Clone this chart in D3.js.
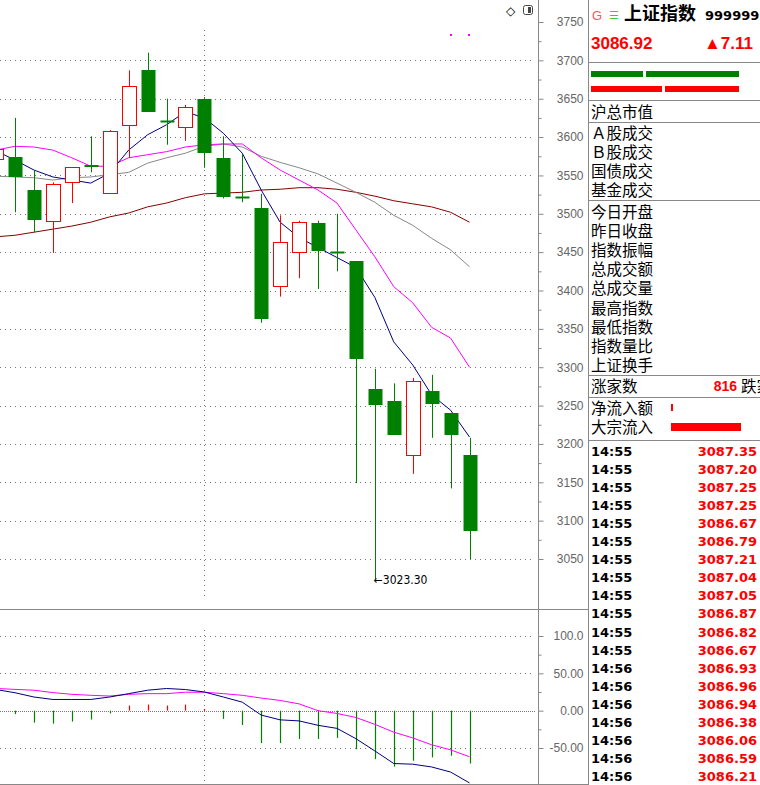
<!DOCTYPE html>
<html><head><meta charset="utf-8">
<script src="https://cdn.jsdelivr.net/npm/d3@7/dist/d3.min.js"></script>
<style>body{margin:0;background:#fff}svg{display:block}</style>
</head><body>
<script>
// candles index -1..24 : [open, close, high, low]
const opens  = [3572,3574,3531,3491,3541,3563,3527,3616,3687,3621,3613,3650,3573,3522,3507,3406,3450,3488,3450,3438,3272,3256,3186,3269,3240,3186];
const closes = [3585,3548,3492,3539,3561,3561,3608,3667,3633,3620,3639,3579,3522,3521,3363,3463,3489,3451,3449,3311,3251,3212,3282,3252,3212,3086.92];
const highs  = [3590,3625,3557,3541,3561,3601,3609,3687,3710,3650,3642,3652,3601,3578,3526,3498,3491,3491,3500,3438,3298,3279,3286,3290,3240,3208];
const lows   = [3565,3502,3476,3449,3514,3554,3526,3573,3633,3590,3595,3560,3520,3515,3358,3392,3416,3402,3425,3149,3023.3,3212,3161,3208,3142,3050];
const ma5  = [3582,3570,3557,3548,3544,3540,3553,3583,3603,3616,3633,3625,3605,3579,3531,3489,3469,3456,3443,3430,3391,3333,3303,3264,3244,3209];
const ma10 = [3583,3588,3587,3583,3573,3562,3562,3573,3577,3581,3587,3590,3591,3591,3573,3557,3544,3531,3514,3479,3444,3405,3384,3352,3338,3300];
const ma20 = [3549,3548,3547,3544,3547,3548,3551,3554,3566,3573,3579,3588,3591,3587,3575,3567,3560,3552,3540,3528,3515,3498,3485,3468,3453,3431];
const ma60 = [3470,3472,3476,3480,3484,3489,3496,3501,3509,3514,3521,3526,3527,3528,3531,3532,3534,3534,3532,3528,3523,3517,3513,3509,3502,3489];
const macd = [null,-4.6,-16,-17.4,-14.6,-11.9,-3.7,6.9,8.2,6.9,8.2,2.3,-11,-19.2,-43.4,-43.4,-37.9,-37.9,-36.5,-51.6,-64.9,-74.9,-67.1,-62.6,-60.3,-70.8];
const dif  = [28.3,24,18.3,15,15,15,18.3,22.8,27.4,29.7,28.3,25,18.3,11.4,-5.9,-12.3,-13.7,-19.6,-23.7,-37.5,-53.9,-70.8,-71.7,-75.4,-82.2,-96.8];
const dea  = [29.7,28.5,27.4,24.2,21.9,20.6,19.6,21.9,22.8,22.8,24.7,24.7,22.8,20.6,16.9,13.7,9.1,0,-3.7,-9.1,-18.3,-28.8,-36.5,-45.7,-52.5,-61.7];
const priceTicks = [3750,3700,3650,3600,3550,3500,3450,3400,3350,3300,3250,3200,3150,3100,3050];
const oscTicks = [[100,"100.0"],[50,"50.00"],[0,"0.00"],[-50,"-50.00"]];
const infoRows1 = ["沪总市值"];
const infoRows2 = ["Ａ股成交","Ｂ股成交","国债成交","基金成交"];
const infoRows3 = ["今日开盘","昨日收盘","指数振幅","总成交额","总成交量","最高指数","最低指数","指数量比","上证换手"];
const tickTimes = ["14:55","14:55","14:55","14:55","14:55","14:55","14:55","14:55","14:55","14:55","14:55","14:55","14:56","14:56","14:56","14:56","14:56","14:56","14:56"];
const tickPrices = ["3087.35","3087.20","3087.25","3087.25","3086.67","3086.79","3087.21","3087.04","3087.05","3086.87","3086.82","3086.67","3086.93","3086.96","3086.94","3086.38","3086.06","3086.59","3086.21"];

const W=760,H=785, AX=538, PR=588;
const svg=d3.select("body").append("svg").attr("width",W).attr("height",H).style("font-family","'Liberation Sans',Arial,sans-serif");
const idx=d3.range(-1,25);
const x=d3.scaleLinear().domain([0,24]).range([15,469.5]);
const y=d3.scaleLinear().domain([3050,3750]).range([559,22]);
const yo=d3.scaleLinear().domain([-50,100]).range([748,636]);
const RED="#ff0000",GRN="#008000";
svg.append("defs").append("clipPath").attr("id","c").append("rect").attr("x",0).attr("y",0).attr("width",AX).attr("height",H);
const g=svg.append("g").attr("clip-path","url(#c)");

// grids
priceTicks.forEach(p=>{ if(p!==3750) g.append("line").attr("x1",0).attr("x2",AX-3).attr("y1",Math.round(y(p))+.5).attr("y2",Math.round(y(p))+.5).attr("stroke","#777").attr("stroke-dasharray","1,4");});
oscTicks.forEach(([v])=>g.append("line").attr("x1",0).attr("x2",AX-3).attr("y1",Math.round(yo(v))+.5).attr("y2",Math.round(yo(v))+.5).attr("stroke","#777").attr("stroke-dasharray",v===0?"1,1":"1,4"));
[[30,597],[630,782]].forEach(([a,b])=>g.append("line").attr("x1",204.5).attr("x2",204.5).attr("y1",a).attr("y2",b).attr("stroke","#777").attr("stroke-dasharray","1,4"));

// MA lines
const line=arr=>d3.line().x((d,i)=>x(idx[i])).y(d=>y(d))(arr);
[[ma60,"#8b0000"],[ma20,"#888"],[ma10,"#ff00ff"],[ma5,"#000080"]].forEach(([a,c])=>g.append("path").attr("d",line(a)).attr("fill","none").attr("stroke",c).attr("stroke-width",1));

// candles
idx.forEach((k,i)=>{
  const o=opens[i],c=closes[i],up=c>o,col=up?RED:GRN,cx=Math.round(x(k))+.5;
  const t=Math.round(y(Math.max(o,c))),b=Math.round(y(Math.min(o,c)));
  g.append("line").attr("x1",cx).attr("x2",cx).attr("y1",y(highs[i])).attr("y2",y(lows[i])).attr("stroke",col);
  if(b-t<2) g.append("line").attr("x1",cx-7).attr("x2",cx+7).attr("y1",t+.5).attr("y2",t+.5).attr("stroke",col).attr("stroke-width",2);
  else g.append("rect").attr("x",cx-7).attr("y",t+(up?.5:0)).attr("width",14).attr("height",b-t).attr("fill",up?"#fff":GRN).attr("stroke",up?RED:"none");
});
const li=lows.indexOf(d3.min(lows));
g.append("text").attr("x",x(idx[li])-1).attr("y",y(lows[li])+5).attr("font-size",12).attr("fill","#000").attr("font-family","DejaVu Sans Condensed, DejaVu Sans").text("←3023.30");

// oscillator
idx.forEach((k,i)=>{ const v=macd[i]; if(v==null) return; const cx=Math.round(x(k))+.5;
  g.append("line").attr("x1",cx).attr("x2",cx).attr("y1",yo(0)).attr("y2",yo(v)).attr("stroke",v>0?RED:GRN).attr("stroke-width",1.2);});
const lo=arr=>d3.line().x((d,i)=>x(idx[i])).y(d=>yo(d))(arr);
g.append("path").attr("d",lo(dea)).attr("fill","none").attr("stroke","#ff00ff");
g.append("path").attr("d",lo(dif)).attr("fill","none").attr("stroke","#000080");

// axes
svg.append("line").attr("x1",AX+.5).attr("x2",AX+.5).attr("y1",0).attr("y2",H).attr("stroke","#888");
svg.append("line").attr("x1",PR+.5).attr("x2",PR+.5).attr("y1",0).attr("y2",H).attr("stroke","#888");
svg.append("line").attr("x1",0).attr("x2",PR).attr("y1",609.5).attr("y2",609.5).attr("stroke","#888");
svg.append("line").attr("x1",0).attr("x2",PR).attr("y1",784.5).attr("y2",784.5).attr("stroke","#888");
svg.append("g").attr("transform",`translate(${AX+.5},0)`).call(d3.axisRight(y).tickValues(priceTicks).tickSize(5).tickFormat(d3.format("d")));
svg.append("g").attr("transform",`translate(${AX+.5},0)`).call(d3.axisRight(y).tickValues(priceTicks.map(p=>p-25).filter(p=>p>3030)).tickSize(3).tickFormat(""));
svg.append("g").attr("transform",`translate(${AX+.5},0)`).call(d3.axisRight(yo).tickValues(oscTicks.map(d=>d[0])).tickSize(5).tickFormat((d,i)=>oscTicks[i][1]));
svg.append("g").attr("transform",`translate(${AX+.5},0)`).call(d3.axisRight(yo).tickValues([75,25,-25]).tickSize(3).tickFormat(""));
svg.selectAll(".domain").remove();
svg.selectAll(".tick line").attr("stroke","#888");
svg.selectAll(".tick text").attr("fill","#666").attr("font-size",12).attr("text-anchor","end").attr("x",45);
svg.append("text").attr("x",510).attr("y",15).attr("font-size",12).attr("text-anchor","middle").text("◇");
svg.append("rect").attr("x",523.5).attr("y",5.5).attr("width",9).attr("height",9).attr("rx",2).attr("fill","none").attr("stroke","#444");
svg.append("rect").attr("x",528).attr("y",7).attr("width",3).attr("height",6).attr("fill","#444");
[450,468].forEach(px=>svg.append("rect").attr("x",px).attr("y",34).attr("width",2).attr("height",2).attr("fill","#ff00ff"));

// right panel
const R=svg.append("g").style("font-family","'Noto Sans CJK SC',sans-serif");
const sep=yy=>R.append("line").attr("x1",PR).attr("x2",W).attr("y1",yy+.5).attr("y2",yy+.5).attr("stroke","#888");
R.append("text").attr("x",592).attr("y",20).attr("font-size",13).attr("fill","#f55").attr("font-family","Liberation Sans").text("G");
R.append("text").attr("x",609).attr("y",19).attr("font-size",11).attr("fill","#3c3").text("☰");
R.append("text").attr("x",624).attr("y",20).attr("font-size",18).attr("font-weight","bold").text("上证指数");
R.append("text").attr("x",705).attr("y",20).attr("font-size",13).attr("font-weight","bold").attr("font-family","DejaVu Sans").text("999999");
R.append("text").attr("x",591).attr("y",49).attr("font-size",17).attr("font-weight","bold").attr("fill",RED).attr("font-family","Liberation Sans").text("3086.92");
R.append("text").attr("x",753).attr("y",49).attr("font-size",17).attr("font-weight","bold").attr("fill",RED).attr("text-anchor","end").attr("font-family","Liberation Sans").text("▲7.11");
sep(62);
R.append("rect").attr("x",591).attr("y",71).attr("width",52).attr("height",6).attr("fill",GRN);
R.append("rect").attr("x",646).attr("y",71).attr("width",93).attr("height",6).attr("fill",GRN);
R.append("rect").attr("x",591).attr("y",86).attr("width",71).attr("height",6).attr("fill",RED);
R.append("rect").attr("x",665).attr("y",86).attr("width",74).attr("height",6).attr("fill",RED);
sep(100);
const rows=(arr,y0)=>arr.forEach((t,i)=>R.append("text").attr("x",591).attr("y",y0+i*19.1).attr("font-size",15.5).text(t));
rows(infoRows1,118); sep(122);
rows(infoRows2,139); sep(200);
rows(infoRows3,218); sep(375);
rows(["涨家数"],392);
R.append("text").attr("x",737).attr("y",391).attr("font-size",14).attr("font-weight","bold").attr("fill",RED).attr("text-anchor","end").attr("font-family","Liberation Sans").text("816");
R.append("text").attr("x",741).attr("y",392).attr("font-size",15.5).text("跌家数");
sep(397);
rows(["净流入额","大宗流入"],414);
R.append("rect").attr("x",671).attr("y",404).attr("width",2).attr("height",7).attr("fill",RED);
R.append("rect").attr("x",671).attr("y",423).attr("width",70).attr("height",8).attr("fill",RED);
sep(440);
tickTimes.forEach((t,i)=>{const yy=456+i*18.05;
  R.append("text").attr("x",591).attr("y",yy).attr("font-size",13).attr("font-weight","bold").attr("font-family","DejaVu Sans").text(t);
  R.append("text").attr("x",757).attr("y",yy).attr("font-size",13).attr("font-weight","bold").attr("fill",RED).attr("text-anchor","end").attr("font-family","DejaVu Sans").text(tickPrices[i]);});
</script>
</body></html>
